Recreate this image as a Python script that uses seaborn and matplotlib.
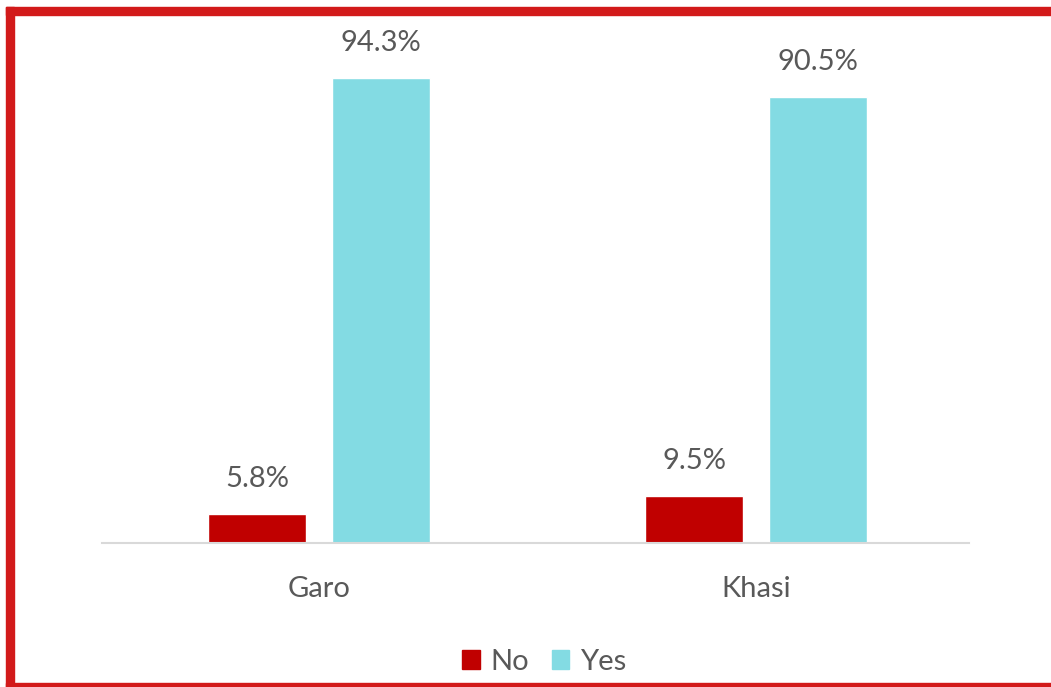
import matplotlib
matplotlib.use("Agg")
import matplotlib.pyplot as plt
import seaborn as sns
import pandas as pd
from matplotlib.patches import Rectangle, Patch

categories = ["Garo", "Khasi"]
responses = ["No", "Yes"]
no_values = [5.8, 9.5]
yes_values = [94.3, 90.5]

df = pd.DataFrame({
    "group": categories * 2,
    "response": ["No"] * len(categories) + ["Yes"] * len(categories),
    "value": no_values + yes_values,
})

sns.set_theme(style="white")
plt.rcParams["font.family"] = ["Lato", "DejaVu Sans"]

W, H = 1051, 687
fig = plt.figure(figsize=(W / 100, H / 100), dpi=100)
ax = fig.add_axes([102 / W, (H - 543) / H, 867 / W, 493 / H])

palette = {"No": "#C00000", "Yes": "#83DBE3"}
sns.barplot(data=df, x="group", y="value", hue="response", order=categories,
            hue_order=responses, palette=palette, width=0.5675, gap=0.21,
            saturation=1, ax=ax, legend=False)

ax.set_xlim(-0.4966, 1.487)
ax.set_ylim(0, 100)
ax.set_xlabel("")
ax.set_ylabel("")
ax.set_yticks([])
for s in ["top", "right", "left"]:
    ax.spines[s].set_visible(False)
ax.spines["bottom"].set_color("#D9D9D9")
ax.spines["bottom"].set_linewidth(1.5)
ax.tick_params(axis="x", length=0, pad=24, labelsize=21, labelcolor="#595959")

for cont in ax.containers:
    ax.bar_label(cont, labels=[f"{v.get_height():.1f}%" for v in cont],
                 padding=16, fontsize=21, color="#595959")

handles = [Patch(color=palette[r], label=r) for r in responses]
fig.legend(handles=handles, loc="center", bbox_to_anchor=(544 / W, (H - 662) / H),
           ncol=2, frameon=False, fontsize=21, labelcolor="#595959",
           handlelength=0.6, handleheight=0.6, handletextpad=0.35, columnspacing=0.8)

red = "#D21A1A"
fig.patches.append(Rectangle((6 / W, (H - 15) / H), 1 - 6 / W, 8 / H,
                             transform=fig.transFigure, color=red, zorder=10))
fig.patches.append(Rectangle((6 / W, 0), 8 / W, (H - 7) / H,
                             transform=fig.transFigure, color=red, zorder=10))
fig.patches.append(Rectangle((6 / W, 0), 1 - 6 / W, 4.5 / H,
                             transform=fig.transFigure, color=red, zorder=10))

fig.savefig("out.png", dpi=100)
